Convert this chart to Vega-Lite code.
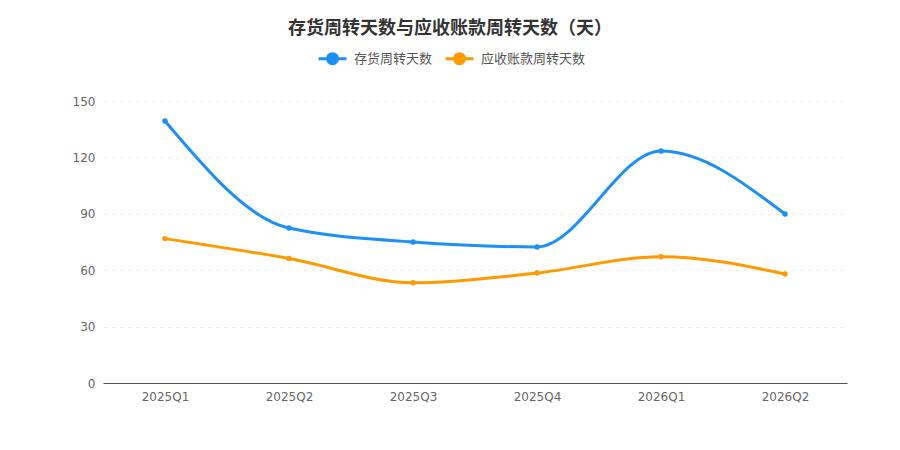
{
  "$schema": "https://vega.github.io/schema/vega-lite/v6.json",
  "width": 744,
  "height": 282,
  "autosize": {"type": "none"},
  "padding": {"left": 103, "top": 101, "right": 53, "bottom": 67},
  "background": "white",
  "title": {
    "text": "存货周转天数与应收账款周转天数（天）",
    "font": "Noto Sans CJK SC",
    "fontSize": 18,
    "fontWeight": "bold",
    "color": "#333333",
    "anchor": "middle",
    "frame": "group",
    "dx": -25,
    "offset": 5
  },
  "data": {
    "values": [
      {"quarter": "2025Q1", "series": "存货周转天数", "days": 139.4},
      {"quarter": "2025Q2", "series": "存货周转天数", "days": 82.4},
      {"quarter": "2025Q3", "series": "存货周转天数", "days": 75.0},
      {"quarter": "2025Q4", "series": "存货周转天数", "days": 72.4},
      {"quarter": "2026Q1", "series": "存货周转天数", "days": 123.4},
      {"quarter": "2026Q2", "series": "存货周转天数", "days": 89.9},
      {"quarter": "2025Q1", "series": "应收账款周转天数", "days": 76.8},
      {"quarter": "2025Q2", "series": "应收账款周转天数", "days": 66.2},
      {"quarter": "2025Q3", "series": "应收账款周转天数", "days": 53.3},
      {"quarter": "2025Q4", "series": "应收账款周转天数", "days": 58.5},
      {"quarter": "2026Q1", "series": "应收账款周转天数", "days": 67.2},
      {"quarter": "2026Q2", "series": "应收账款周转天数", "days": 58.0}
    ]
  },
  "mark": {
    "type": "line",
    "interpolate": "monotone",
    "strokeWidth": 3,
    "point": {"filled": true, "size": 30, "opacity": 1}
  },
  "encoding": {
    "x": {
      "field": "quarter",
      "type": "ordinal",
      "title": null,
      "scale": {"type": "point", "padding": 0.5},
      "axis": {
        "labelAngle": 0,
        "labelFont": "DejaVu Sans",
        "labelFontSize": 12,
        "labelColor": "#666666",
        "labelPadding": 8,
        "ticks": false,
        "domainColor": "#555555",
        "domainWidth": 1,
        "grid": false
      }
    },
    "y": {
      "field": "days",
      "type": "quantitative",
      "title": null,
      "scale": {"domain": [0, 150]},
      "axis": {
        "values": [0, 30, 60, 90, 120, 150],
        "labelFont": "DejaVu Sans",
        "labelFontSize": 12,
        "labelColor": "#666666",
        "labelPadding": 8,
        "ticks": false,
        "domain": false,
        "gridColor": "#eeeeee",
        "gridDash": [4, 4],
        "gridWidth": 1
      }
    },
    "color": {
      "field": "series",
      "type": "nominal",
      "sort": ["存货周转天数", "应收账款周转天数"],
      "scale": {
        "domain": ["存货周转天数", "应收账款周转天数"],
        "range": ["#1E90F5", "#FF9A00"]
      },
      "legend": {
        "title": null,
        "orient": "none",
        "direction": "horizontal",
        "legendX": 214,
        "legendY": -58,
        "symbolType": "M-1,0H1M-0.36,0A0.36,0.36 0 1,1 0.36,0A0.36,0.36 0 1,1 -0.36,0",
        "symbolSize": 784,
        "symbolStrokeWidth": 3,
        "labelFont": "Noto Sans CJK SC",
        "labelFontSize": 13,
        "labelColor": "#555555",
        "labelOffset": 6,
        "columnPadding": 6
      }
    }
  },
  "config": {
    "view": {"stroke": null}
  }
}
